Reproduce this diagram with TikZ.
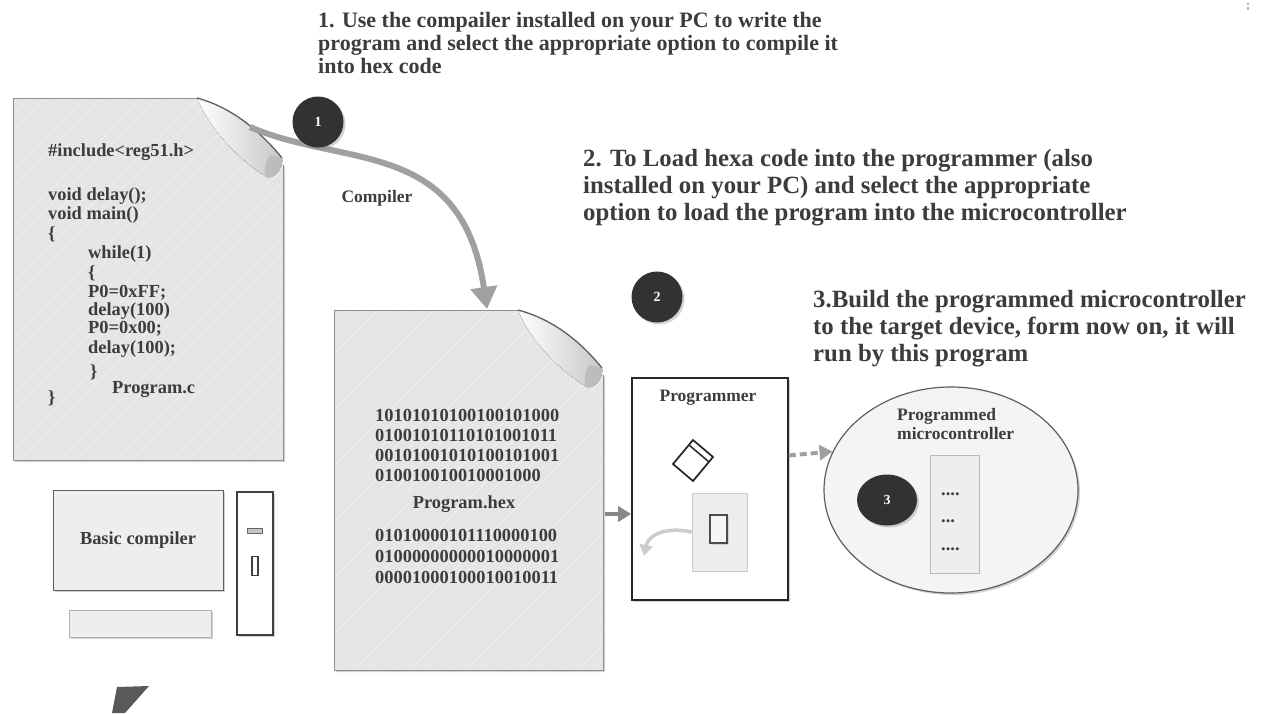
\documentclass[tikz,border=0pt]{standalone}
\usepackage{fontspec}
\setmainfont{Liberation Serif}
\usetikzlibrary{shadows,arrows.meta,calc,shapes.geometric}

\definecolor{ink}{RGB}{60,60,60}
\definecolor{sheet}{RGB}{229,229,229}
\definecolor{badge}{RGB}{50,50,50}
\definecolor{flow}{RGB}{160,160,160}
\definecolor{edge}{RGB}{95,95,95}

\tikzset{
  lbl/.style={font=\fontsize{18.4pt}{19pt}\selectfont\bfseries, text=ink, inner sep=0pt},
  code/.style={lbl, anchor=base west},
  bits/.style={lbl, anchor=base west},
  note/.style={font=\fontsize{24.8pt}{27pt}\selectfont\bfseries, text=ink, inner sep=0pt, anchor=base west},
  topnote/.style={font=\fontsize{22pt}{23pt}\selectfont\bfseries, text=ink, inner sep=0pt, anchor=base west},
  softshadow/.style={drop shadow={opacity=0.35, shadow xshift=2pt, shadow yshift=-2pt}},
  badgenode/.style={circle, fill=badge, minimum size=51pt, inner sep=0pt, text=white,
    font=\fontsize{14pt}{14pt}\selectfont\bfseries, softshadow},
  flowarrow/.style={draw=flow, line width=6pt, -{Triangle[length=22pt, width=26pt]}},
  feedarrow/.style={draw=flow!85!black, line width=4.5pt, -{Triangle[length=13pt, width=15pt]}},
}

% A sheet of paper with a curled top-right corner:
% #1,#2 top-left, #3,#4 bottom-right, #5 end of top edge, #6 start of right edge
\newcommand\docsheet[6]{%
  \path[fill=sheet, softshadow] (#1,#2) -- (#5,#2) -- (#3,#6) -- (#3,#4) -- (#1,#4) -- cycle;
  \begin{scope}
    \clip (#1,#2) -- (#5,#2) -- (#3,#6) -- (#3,#4) -- (#1,#4) -- cycle;
    \foreach \k in {0,14,...,770}
      \draw[white, opacity=0.35, line width=1pt] (#1-400+\k,#4) -- ++(420,-420);
  \end{scope}
  \draw[edge!70, line width=1pt] (#5,#2) -- (#1,#2) -- (#1,#4) -- (#3,#4) -- (#3,#6);
  % the rolled corner
  \fill[left color=white, right color=gray!45]
    (#5,#2) .. controls +(30,8) and +(-26,-32) .. (#3-1,#6-7)
            .. controls +(2,6) and +(10,2) .. (#3-16,#6+12)
            .. controls +(-24,-14) and +(14,34) .. (#5,#2);
  \fill[gray!55, opacity=0.8]
    (#3-1,#6-7) .. controls +(2,6) and +(10,2) .. (#3-16,#6+12)
                .. controls +(-4,-3) and +(-6,2) .. (#3-12,#6-10) -- cycle;
  \draw[edge, line width=1.3pt] (#5,#2) .. controls +(30,8) and +(-26,-32) .. (#3-1,#6-7);
}

\begin{document}
\begin{tikzpicture}[x=1pt,y=-1pt]
\useasboundingbox[fill=white] (0,0) rectangle (1265,713);

% ---------- step descriptions ----------
\node[topnote] (t1a) at (318,27) {1. Use the compailer installed on your PC to write the};
\node[topnote] (t1b) at (318,50) {program and select the appropriate option to compile it};
\node[topnote] (t1c) at (318,73) {into hex code};

\node[note] (t2a) at (583,166) {2. To Load hexa code into the programmer (also};
\node[note] (t2b) at (583,193) {installed on your PC) and select the appropriate};
\node[note] (t2c) at (583,220) {option to load the program into the microcontroller};

\node[note] (t3a) at (813,307) {3.Build the programmed microcontroller};
\node[note] (t3b) at (813,334) {to the target device, form now on, it will};
\node[note] (t3c) at (813,361) {run by this program};

% ---------- source file ----------
\docsheet{13}{98}{283}{460}{197}{165}
\node[code] (c1)  at (48,156) {\#include<reg51.h>};
\node[code] (c2)  at (48,200) {void delay();};
\node[code] (c3)  at (48,219) {void main()};
\node[code] (c4)  at (48,239) {\{};
\node[code] (c5)  at (88,258) {while(1)};
\node[code] (c6)  at (88,278) {\{};
\node[code] (c7)  at (88,297) {P0=0xFF;};
\node[code] (c8)  at (88,315) {delay(100)};
\node[code] (c9)  at (88,333) {P0=0x00;};
\node[code] (c10) at (88,353) {delay(100);};
\node[code] (c11) at (90,377) {\}};
\node[code] (c12) at (112,393) {Program.c};
\node[code] (c13) at (48,403) {\}};

% ---------- hex file ----------
\docsheet{334}{310}{603}{670}{518}{375}
\node[bits] (b1) at (375,421) {10101010100100101000};
\node[bits] (b2) at (375,441) {01001010110101001011};
\node[bits] (b3) at (375,461) {00101001010100101001};
\node[bits] (b4) at (375,481) {010010010010001000};
\node[lbl, anchor=base] (hexname) at (464,508) {Program.hex};
\node[bits] (b5) at (375,541) {01010000101110000100};
\node[bits] (b6) at (375,562) {01000000000010000001};
\node[bits] (b7) at (375,583) {00001000100010010011};

% ---------- compile step ----------
\coordinate (srcCurl) at (250,127);
\coordinate (hexTop) at (487,309);
\draw[flowarrow] (srcCurl) .. controls (345,168) and (462,138) .. (hexTop);
\node[lbl, font=\fontsize{17.5pt}{18pt}\selectfont\bfseries] (cmp) at (377,198) {Compiler};
\node[badgenode] (s1) at (318,122) {1};

% ---------- the PC ----------
\node[draw=edge, line width=1pt, fill=gray!13, minimum width=170pt, minimum height=100pt,
      inner sep=0pt, softshadow] (mon) at (138,540) {};
\node[lbl] (moncap) at (mon.center) {Basic compiler};
\node[draw=gray!60, line width=0.8pt, fill=gray!13, minimum width=142pt, minimum height=27pt,
      inner sep=0pt, softshadow] (kbd) at (140,623.5) {};
\node[draw=black!75, line width=1.5pt, fill=white, minimum width=36pt, minimum height=143pt,
      inner sep=0pt, softshadow] (tower) at (255,563.5) {};
\node[draw=gray!80!black, line width=0.9pt, fill=gray!45, minimum width=15pt, minimum height=5pt,
      inner sep=0pt] (slot) at (254.5,530.5) {};
\node[draw=black!75, line width=1.2pt, fill=white, minimum width=6pt, minimum height=19pt,
      inner sep=0pt] (button) at (255,566) {};

% ---------- programmer ----------
\node[draw=black!85, line width=1.6pt, fill=white, minimum width=156pt, minimum height=222pt,
      inner sep=0pt, softshadow] (prog) at (710,489) {};
\node[lbl, font=\fontsize{17.5pt}{18pt}\selectfont\bfseries] (progcap) at (708,398) {Programmer};
\draw[black!85, line width=1.7pt, fill=white] (693,440) -- (713,457) -- (693,481) -- (673,464) -- cycle;
\draw[black!85, line width=1.5pt] (689,445) -- (709,462);
\node[draw=gray!40, fill=gray!14, minimum width=55pt, minimum height=78pt, inner sep=0pt]
  (socket) at (719.5,532) {};
\node[draw=black!70, line width=1.3pt, fill=gray!8, minimum width=17pt, minimum height=28pt,
      inner sep=0pt, drop shadow={opacity=0.25, shadow xshift=2pt, shadow yshift=-2pt}]
  (chip) at (718.5,529) {};
\coordinate (ejectTip) at (644,556);
\draw[draw=gray!40, line width=3.5pt, -{Triangle[length=11pt, width=13pt]}]
  (socket.west) .. controls +(-28,-6) and +(4,-20) .. (ejectTip);

\node[badgenode] (s2) at (657,297) {2};

\coordinate (hexOut) at (605,514);
\draw[feedarrow] (hexOut) -- (prog.west |- hexOut);

% ---------- programmed microcontroller ----------
\node[ellipse, draw=edge, line width=1.2pt, fill=gray!9, minimum width=254pt, minimum height=206pt,
      inner sep=0pt, softshadow] (mcu) at (951,490) {};
\node[lbl, font=\fontsize{17.5pt}{18pt}\selectfont\bfseries, anchor=base west] (mcu1) at (897,420) {Programmed};
\node[lbl, font=\fontsize{17.5pt}{18pt}\selectfont\bfseries, anchor=base west] (mcu2) at (897,439) {microcontroller};
\node[draw=gray!55, fill=gray!13, minimum width=49pt, minimum height=118pt, inner sep=0pt]
  (ic) at (954.5,514) {};
\node[lbl, anchor=base west] (d1) at (941,495) {....};
\node[lbl, anchor=base west] (d2) at (941,522) {...};
\node[lbl, anchor=base west] (d3) at (941,550) {....};
\node[ellipse, fill=badge, minimum width=60pt, minimum height=51pt, inner sep=0pt, text=white,
      font=\fontsize{14pt}{14pt}\selectfont\bfseries, softshadow] (s3) at (887,500) {3};

\coordinate (progOut) at ($(prog.north east)!0.35!(prog.south east)$);
\draw[draw=flow, line width=4pt, dash pattern=on 7pt off 4pt, -{Triangle[length=13pt, width=15pt]}]
  (progOut) -- (mcu.162);

% ---------- stray marks ----------
\fill[gray!70!black] (117,687) -- (149,686) -- (125,713) -- (112,713) -- cycle;
\fill[gray!60] (1247,3) rectangle (1249,5);
\fill[gray!60] (1247,7) rectangle (1249,9.5);
\end{tikzpicture}
\end{document}
